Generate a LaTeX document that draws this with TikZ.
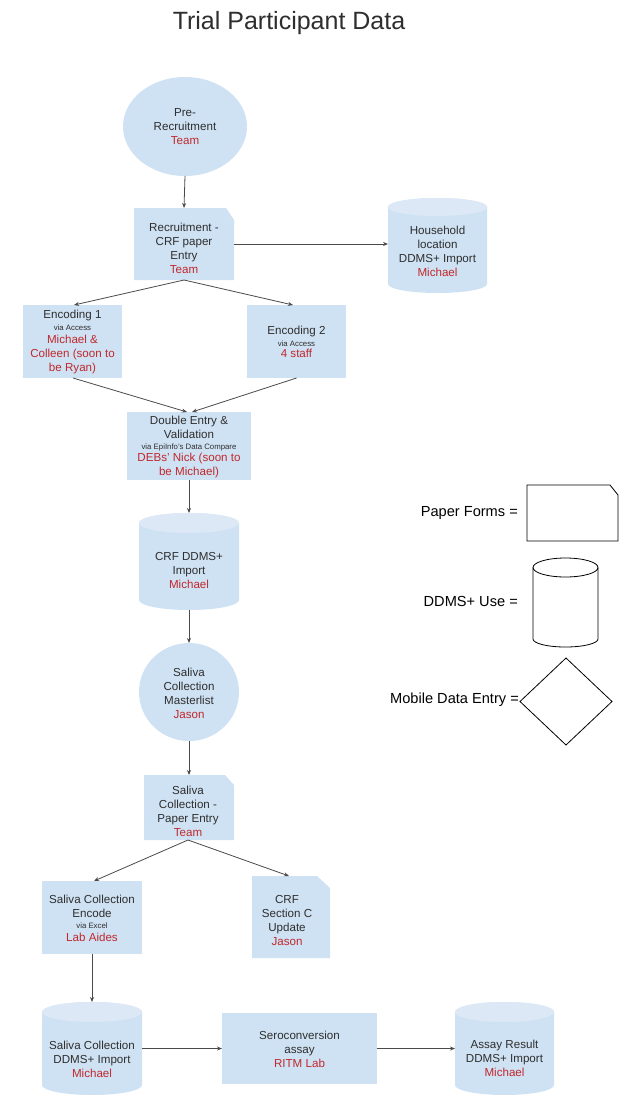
\documentclass[tikz,border=0pt]{standalone}
\usepackage{fontspec}
\setmainfont{Liberation Sans}
\usetikzlibrary{arrows.meta,shapes.geometric}
\definecolor{boxfill}{HTML}{CFE2F3}
\definecolor{capfill}{HTML}{DCE8F5}
\definecolor{redtxt}{HTML}{C0282D}
\definecolor{txt}{HTML}{2E2E2E}
\definecolor{linec}{HTML}{4A4A4A}
\newcommand{\rd}[1]{\textcolor{redtxt}{#1}}
\newcommand{\smtxt}[1]{{\fontsize{7.8}{9}\selectfont #1}}
% cylinder fill: node, half width, ry
\newcommand{\cylfill}[3]{%
  \fill[boxfill] ([yshift=-#3]#1.north west) -- ([yshift=#3]#1.south west)
    arc[start angle=180,end angle=360,x radius=#2,y radius=#3]
    -- ([yshift=-#3]#1.north east)
    arc[start angle=0,end angle=180,x radius=#2,y radius=#3] -- cycle;
  \fill[capfill] ([yshift=-#3]#1.north) ellipse[x radius=#2,y radius=#3];}
% paper fill: node, cut x, cut y
\newcommand{\paperfill}[3]{%
  \fill[boxfill] (#1.north west) -- ([xshift=-#2]#1.north east)
    -- ([yshift=-#3]#1.north east) -- (#1.south east) -- (#1.south west) -- cycle;}
\begin{document}
\begin{tikzpicture}[x=1pt,y=-1pt,
  shp/.style={rectangle,inner sep=0pt,outer sep=0pt,draw=none},
  box/.style={rectangle,inner sep=0pt,outer sep=0pt,fill=boxfill},
  oval/.style={ellipse,inner sep=0pt,outer sep=0pt,fill=boxfill},
  txtn/.style={align=center,inner sep=0pt,text=txt,font=\fontsize{11.6}{14}\selectfont},
  legtxt/.style={anchor=east,inner sep=0pt,text=black,font=\fontsize{14.6}{17}\selectfont},
  arr/.style={draw=linec,line width=0.8pt,-{Stealth[length=5pt,width=4pt]}}]
\fill[white] (0,0) rectangle (625,1095);
\useasboundingbox (0,0) rectangle (625,1095);

% title
\node[inner sep=0pt,text=txt,font=\fontsize{25}{30}\selectfont] (title) at (289,23) {Trial Participant Data};

% shapes
\node[oval,minimum width=124pt,minimum height=99pt] (pre) at (185,126.5) {};
\node[shp,minimum width=100pt,minimum height=72pt] (rec) at (184,244) {};
\paperfill{rec}{8pt}{12pt}
\node[shp,minimum width=99pt,minimum height=95pt] (hh) at (437.5,245.5) {};
\cylfill{hh}{49.5pt}{9pt}
\node[box,minimum width=99pt,minimum height=73pt] (enc1) at (72.5,341.5) {};
\node[box,minimum width=99pt,minimum height=73pt] (enc2) at (296.5,341.5) {};
\node[box,minimum width=124pt,minimum height=68pt] (dbl) at (189,446) {};
\node[shp,minimum width=100pt,minimum height=97pt] (crf) at (189,561.5) {};
\cylfill{crf}{50pt}{10pt}
\node[oval,minimum width=100pt,minimum height=98pt] (sal) at (189,692) {};
\node[shp,minimum width=90pt,minimum height=65pt] (spe) at (189,807.5) {};
\paperfill{spe}{9pt}{10pt}
\node[box,minimum width=100pt,minimum height=73pt] (sce) at (92,917.5) {};
\node[shp,minimum width=78pt,minimum height=82pt] (crfc) at (291,917) {};
\paperfill{crfc}{13pt}{12pt}
\node[shp,minimum width=100pt,minimum height=93pt] (sdd) at (92,1048.5) {};
\cylfill{sdd}{50pt}{10pt}
\node[box,minimum width=155pt,minimum height=71pt] (sero) at (299.5,1048.5) {};
\node[shp,minimum width=99pt,minimum height=93pt] (ard) at (504.5,1048.5) {};
\cylfill{ard}{49.5pt}{10pt}

% texts
\node[txtn] (pre-t) at (185,127) {Pre-\\Recruitment\\\rd{Team}};
\node[txtn] (rec-t) at (184,248) {Recruitment -\\CRF paper\\Entry\\\rd{Team}};
\node[txtn] (hh-t) at (437.5,251) {Household\\location\\DDMS+ Import\\\rd{Michael}};
\node[txtn] (enc1-t) at (72.5,342) {Encoding 1\\[-2pt]\smtxt{via Access}\\[-1pt]\rd{Michael \&}\\\rd{Colleen (soon to}\\\rd{be Ryan)}};
\node[txtn] (enc2-t) at (296.5,341.5) {Encoding 2\\[-2pt]\smtxt{via Access}\\[-3pt]\rd{4 staff}};
\node[txtn] (dbl-t) at (189,447) {Double Entry \&\\Validation\\[-3pt]\smtxt{via EpiInfo’s Data Compare}\\[-2pt]\rd{DEBs’ Nick (soon to}\\\rd{be Michael)}};
\node[txtn] (crf-t) at (189,570.5) {CRF DDMS+\\Import\\\rd{Michael}};
\node[txtn] (sal-t) at (189,693) {Saliva\\Collection\\Masterlist\\\rd{Jason}};
\node[txtn] (spe-t) at (188,811.5) {Saliva\\Collection -\\Paper Entry\\\rd{Team}};
\node[txtn] (sce-t) at (92,918) {Saliva Collection\\Encode\\[-3pt]\smtxt{via Excel}\\[-1pt]\rd{Lab Aides}};
\node[txtn] (crfc-t) at (287,920.5) {CRF\\Section C\\Update\\\rd{Jason}};
\node[txtn] (sdd-t) at (92,1059.5) {Saliva Collection\\DDMS+ Import\\\rd{Michael}};
\node[txtn] (sero-t) at (299.5,1049.5) {Seroconversion\\assay\\\rd{RITM Lab}};
\node[txtn] (ard-t) at (504.5,1058) {Assay Result\\DDMS+ Import\\\rd{Michael}};

% connectors
\draw[arr] (pre.south) -- (rec.north);
\draw[arr] (rec.east) -- (rec.east -| hh.west);
\draw[arr] (rec.south) -- ([xshift=1.5pt]enc1.north);
\draw[arr] (rec.south) -- ([xshift=-3.5pt]enc2.north);
\draw[arr] ([xshift=0.5pt]enc1.south) -- ([xshift=-2pt]dbl.north);
\draw[arr] (enc2.south) -- ([xshift=3pt]dbl.north);
\draw[arr] (dbl.south) -- (crf.north);
\draw[arr] (crf.south) -- (sal.north);
\draw[arr] (sal.south) -- (spe.north);
\draw[arr] ([xshift=-1pt]spe.south) -- ([xshift=2pt]sce.north);
\draw[arr] ([xshift=-1pt]spe.south) -- ([xshift=-2pt]crfc.north);
\draw[arr] (sce.south) -- (sdd.north);
\draw[arr] (sdd.east) -- (sero.west);
\draw[arr] (sero.east) -- (ard.west);

% legend
\node[shp,minimum width=91pt,minimum height=56pt] (lpap) at (572.5,513) {};
\draw[black,line width=0.8pt,fill=white] (lpap.north west) -- ([xshift=-8pt]lpap.north east)
  -- ([yshift=-10pt]lpap.north east) -- (lpap.south east) -- (lpap.south west) -- cycle;
\node[shp,minimum width=65pt,minimum height=89pt] (lcyl) at (565.5,602.5) {};
\draw[black,line width=0.8pt,fill=white] ([yshift=-9.5pt]lcyl.north west) -- ([yshift=8pt]lcyl.south west)
  arc[start angle=180,end angle=360,x radius=32.5pt,y radius=8pt]
  -- ([yshift=-9.5pt]lcyl.north east);
\draw[black,line width=0.8pt] ([yshift=-9.5pt]lcyl.north) ellipse[x radius=32.5pt,y radius=9.5pt];
\node[shp,minimum width=92pt,minimum height=87pt] (ldia) at (566,701.5) {};
\draw[black,line width=0.8pt] (ldia.west) -- (ldia.north) -- (ldia.east) -- (ldia.south) -- cycle;
\node[legtxt] (lt1) at (518,513) {Paper Forms =};
\node[legtxt] (lt2) at (518,601) {DDMS+ Use =};
\node[legtxt] (lt3) at (519,700) {Mobile Data Entry =};
\end{tikzpicture}
\end{document}
